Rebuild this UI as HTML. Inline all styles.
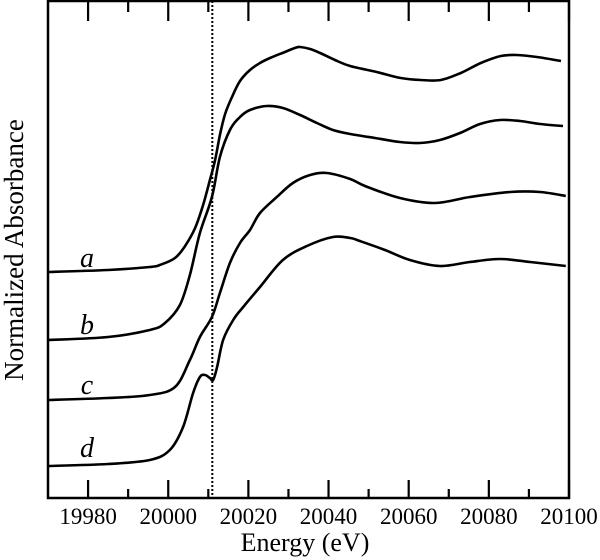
<!DOCTYPE html>
<html><head><meta charset="utf-8">
<style>
html,body{margin:0;padding:0;background:#fff;}
svg{display:block;}
text{font-family:"Liberation Serif",serif;fill:#000;}
</style></head>
<body>
<svg id="chart" width="600" height="560" viewBox="0 0 600 560">
  <g id="curves"></g>
  <g id="axes"></g>
</svg>
<script>
const xTicks = [19980, 19990, 20000, 20010, 20020, 20030, 20040, 20050, 20060, 20070, 20080, 20090, 20100];
const xTickLabels = ["19980", "20000", "20020", "20040", "20060", "20080", "20100"];
const edgeEnergy = 20011;
const seriesNames = ["a", "b", "c", "d"];
const aE = [19970,19985,19995.4,19997.9,20001.7,20004.2,20006.7,20008.7,20010.4,20011.7,20012.9,20014.2,20015.9,20017.9,20020.4,20022.9,20025.4,20029.1,20031.6,20032.9,20035.4,20037.9,20041.6,20045.4,20052,20058,20063,20068,20073,20078,20083,20087,20092,20098];
const aY = [2.35,2.37,2.40,2.42,2.49,2.61,2.79,3.02,3.27,3.47,3.72,3.93,4.10,4.26,4.37,4.44,4.49,4.55,4.59,4.60,4.58,4.54,4.47,4.41,4.35,4.29,4.27,4.27,4.34,4.44,4.51,4.52,4.50,4.46];
const bE = [19970,19985,19995.4,19999.2,20002.9,20005.4,20007.9,20010.9,20012.9,20015.4,20017.9,20020.4,20024.6,20028.6,20032.9,20037.1,20041.1,20045.4,20051.6,20057.8,20062.8,20067.8,20072.8,20077.8,20082.8,20087.8,20092.8,20098.5];
const bY = [1.67,1.70,1.77,1.84,2.02,2.32,2.74,3.10,3.50,3.77,3.90,3.97,4.01,3.99,3.92,3.84,3.77,3.73,3.69,3.65,3.64,3.67,3.74,3.83,3.87,3.86,3.83,3.81];
const cE = [19970,19985,19995.4,20001.7,20005.4,20007.9,20010.9,20012.9,20015.4,20017.9,20020.4,20022.9,20027.1,20031.1,20035.4,20039.6,20045.4,20049.1,20057.8,20066.6,20075.3,20085.3,20092.8,20099.2];
const cY = [1.07,1.09,1.12,1.20,1.47,1.70,1.90,2.14,2.44,2.64,2.77,2.94,3.10,3.24,3.32,3.34,3.28,3.21,3.09,3.04,3.10,3.15,3.15,3.11];
const dE = [19970,19985,19995.4,20000.4,20003.7,20006.2,20007.9,20009.2,20010.4,20011.2,20012.2,20013.7,20016.2,20018.7,20022.9,20028.6,20034.6,20041.1,20045.4,20047.8,20054.1,20060.3,20067.8,20075.3,20082.8,20090.3,20099.2];
const dY = [0.41,0.43,0.47,0.57,0.80,1.14,1.30,1.32,1.29,1.27,1.40,1.67,1.87,2.00,2.20,2.47,2.61,2.70,2.69,2.66,2.57,2.47,2.41,2.45,2.48,2.45,2.41];
const labelY = [2.49, 1.82, 1.22, 0.59];
const yMin = 0.09;

const L=48, R=569, T=1, B=498;
function xs(e){ return L + (e-19970)/(20100-19970)*(R-L); }
function ys(v){ return B - (v-yMin)*100; }
const NS="http://www.w3.org/2000/svg";
function mk(tag, attrs, parent){
  const el=document.createElementNS(NS,tag);
  for(const k in attrs) el.setAttribute(k,attrs[k]);
  parent.appendChild(el); return el;
}
function smoothPath(pts){
  let d="M"+pts[0][0].toFixed(1)+","+pts[0][1].toFixed(1);
  for(let i=0;i<pts.length-1;i++){
    const p0=pts[Math.max(0,i-1)],p1=pts[i],p2=pts[i+1],p3=pts[Math.min(pts.length-1,i+2)];
    const c1=[p1[0]+(p2[0]-p0[0])/6,p1[1]+(p2[1]-p0[1])/6];
    const c2=[p2[0]-(p3[0]-p1[0])/6,p2[1]-(p3[1]-p1[1])/6];
    d+=" C"+c1[0].toFixed(1)+","+c1[1].toFixed(1)+" "+c2[0].toFixed(1)+","+c2[1].toFixed(1)+" "+p2[0].toFixed(1)+","+p2[1].toFixed(1);
  }
  return d;
}
const curves=document.getElementById('curves');
const axes=document.getElementById('axes');
const allE=[aE,bE,cE,dE], allY=[aY,bY,cY,dY];
for(let s=0;s<4;s++){
  const pts=allE[s].map((e,i)=>[xs(e),ys(allY[s][i])]);
  const p=mk('path',{d:smoothPath(pts),fill:'none',stroke:'#000','stroke-width':2.6,'stroke-linejoin':'round'},curves);
  
  
  const t=mk('text',{x:87,y:ys(labelY[s])+9,'font-size':28,'font-style':'italic','text-anchor':'middle'},curves);
  t.textContent=seriesNames[s];
  
  
}
const dl=mk('line',{x1:xs(edgeEnergy),x2:xs(edgeEnergy),y1:T,y2:B,stroke:'#000','stroke-width':2,'stroke-dasharray':'2,2'},curves);


const fr=mk('rect',{x:L,y:T,width:R-L,height:B-T,fill:'none',stroke:'#000','stroke-width':2.5},axes);


xTicks.forEach((v,i)=>{
  const len = (i%2===0)?18:9;
  const x=xs(v);
  const t1=mk('line',{x1:x,x2:x,y1:B,y2:B-len,stroke:'#000','stroke-width':2.2},axes);
  
  
  const t2=mk('line',{x1:x,x2:x,y1:T,y2:T+len+2,stroke:'#000','stroke-width':2.2},axes);
  
  
});
xTickLabels.forEach(lbl=>{
  const t=mk('text',{x:xs(+lbl),y:524,'font-size':23,'text-anchor':'middle'},axes);
  t.textContent=lbl;
  
  
});
const xt=mk('text',{x:305,y:551,'font-size':26,'text-anchor':'middle'},axes);
xt.textContent='Energy (eV)';


const yt=mk('text',{x:0,y:0,'font-size':27,'text-anchor':'middle',transform:'translate(23,250) rotate(-90)'},axes);
yt.textContent='Normalized Absorbance';


</script>
</body></html>
